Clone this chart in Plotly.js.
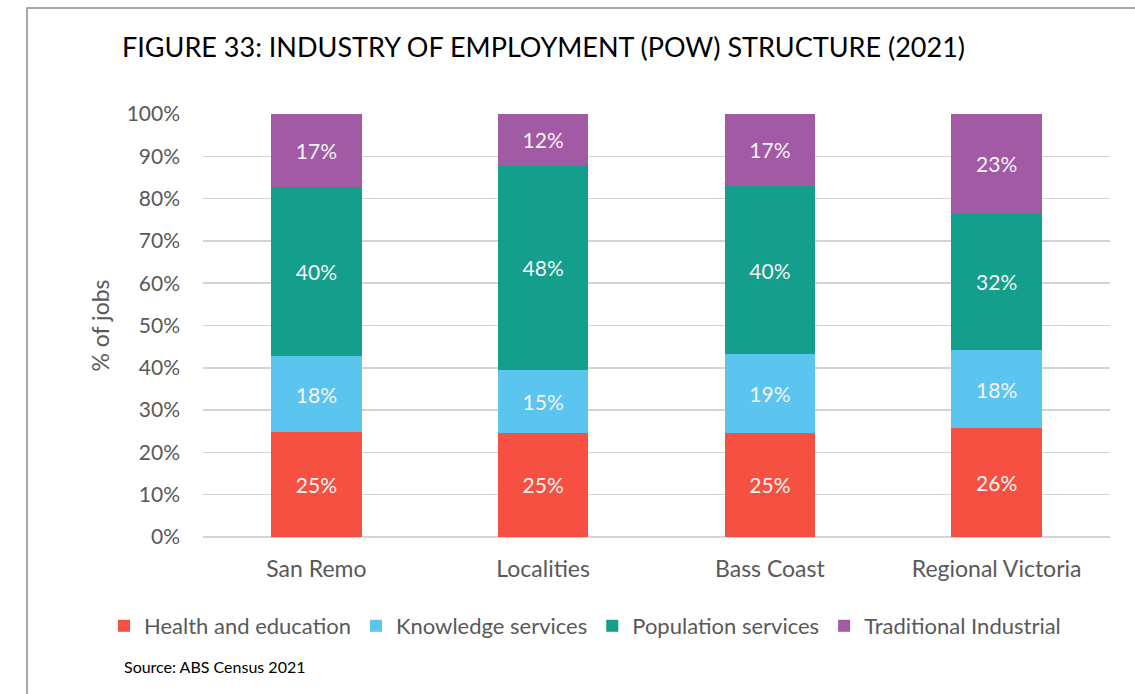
<!DOCTYPE html>
<html>
<head>
<meta charset="utf-8">
<script src="https://cdn.plot.ly/plotly-3.0.1.min.js"></script>
<style>
html,body{margin:0;padding:0;background:#fff;}
#chart{width:1135px;height:694px;}
</style>
</head>
<body>
<div id="chart"></div>
<script>
const categories = ["San Remo", "Localities", "Bass Coast", "Regional Victoria"];
const healthEducation = [24.8, 24.6, 24.6, 25.7];
const knowledgeServices = [18.0, 14.8, 18.6, 18.4];
const populationServices = [40.0, 48.4, 39.8, 32.4];
const traditionalIndustrial = [17.2, 12.2, 17.0, 23.4];
const yTickValues = [0, 10, 20, 30, 40, 50, 60, 70, 80, 90, 100];
const yTickLabels = ["0%", "10%", "20%", "30%", "40%", "50%", "60%", "70%", "80%", "90%", "100%"];

const FONT = "Lato, 'Open Sans', sans-serif";
const GREY = "#595959";

function series(name, values, color) {
  return {
    type: "bar",
    name: name,
    x: categories,
    y: values,
    marker: {color: color},
    text: values.map(v => Math.round(v) + "%"),
    textposition: "inside",
    insidetextanchor: "middle",
    textangle: 0,
    insidetextfont: {family: FONT, size: 21, color: "#f4f4f4"},
    hoverinfo: "x+y+name"
  };
}

const data = [
  series("Health and education", healthEducation, "#F55041"),
  series("Knowledge services", knowledgeServices, "#5BC5F0"),
  series("Population services", populationServices, "#149E8C"),
  series("Traditional Industrial", traditionalIndustrial, "#A25AA5")
];

const L = 203, R = 1110, T = 114, B = 537;
const px = x => (x - L) / (R - L);
const py = y => (B - y) / (B - T);

const layout = {
  width: 1135,
  height: 694,
  margin: {l: L, r: 1135 - R, t: T, b: 694 - B, pad: 0},
  paper_bgcolor: "#ffffff",
  plot_bgcolor: "#ffffff",
  barmode: "stack",
  bargap: 0.6,
  font: {family: FONT, color: GREY},
  title: {
    text: "FIGURE 33: INDUSTRY OF EMPLOYMENT (POW) STRUCTURE (2021)",
    font: {family: FONT, size: 27, color: "#000000"},
    x: 122 / 1135, xanchor: "left", xref: "container",
    y: 1 - 48 / 694, yanchor: "middle", yref: "container"
  },
  xaxis: {
    type: "category",
    tickfont: {family: FONT, size: 23, color: GREY},
    showgrid: false,
    showline: false,
    ticks: "",
    ticklabelstandoff: 16,
    fixedrange: true
  },
  yaxis: {
    range: [0, 100],
    tickvals: yTickValues,
    ticktext: yTickLabels,
    tickfont: {family: FONT, size: 21, color: GREY},
    showgrid: true,
    gridcolor: "#d4d4d4",
    gridwidth: 1.5,
    zeroline: true,
    zerolinecolor: "#d4d4d4",
    zerolinewidth: 1.5,
    showline: false,
    ticks: "",
    ticklabelstandoff: 22,
    title: {text: "% of jobs", font: {family: FONT, size: 23, color: GREY}, standoff: 10},
    automargin: false,
    fixedrange: true
  },
  showlegend: true,
  legend: {
    orientation: "h",
    x: px(104), xanchor: "left",
    y: py(626), yanchor: "middle",
    font: {family: FONT, size: 22, color: GREY},
    itemwidth: 30,
    traceorder: "normal",
    bgcolor: "rgba(0,0,0,0)"
  },
  annotations: [{
    text: "Source: ABS Census 2021",
    xref: "paper", yref: "paper",
    x: px(122), xanchor: "left",
    y: py(666), yanchor: "middle",
    showarrow: false,
    font: {family: FONT, size: 16, color: "#000000"}
  }],
  shapes: [{
    type: "rect", xref: "paper", yref: "paper",
    x0: px(27), x1: px(1160), y0: py(720), y1: py(8),
    line: {color: "#8a8a8a", width: 1.5},
    fillcolor: "rgba(0,0,0,0)",
    layer: "below"
  }]
};

Plotly.newPlot("chart", data, layout, {displayModeBar: false, staticPlot: true});
</script>
</body>
</html>
